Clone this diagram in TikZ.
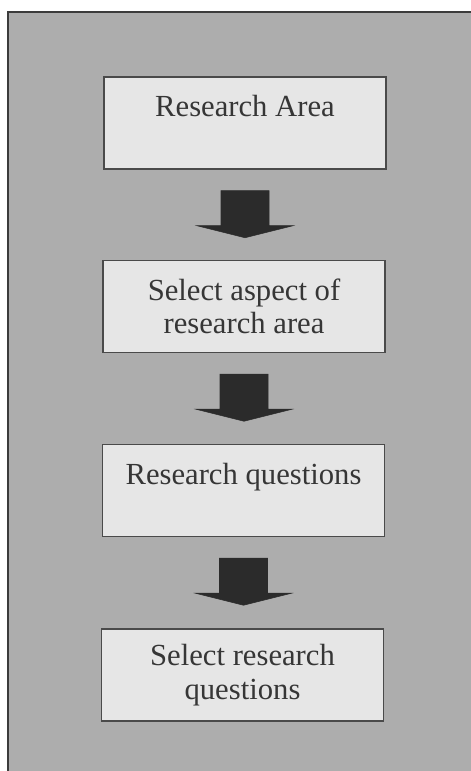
\documentclass[tikz,border=0pt]{standalone}
\usepackage{fontspec}
\setmainfont{Liberation Serif}
\usetikzlibrary{calc}

\definecolor{panel}{HTML}{ADADAD}
\definecolor{boxfill}{HTML}{E6E6E6}
\definecolor{boxline}{HTML}{4A4A4A}
\definecolor{frameline}{HTML}{3C3C3C}
\definecolor{arrowdark}{HTML}{2B2B2B}
\definecolor{textgray}{HTML}{363636}

\tikzset{
  stepbox/.style={draw=boxline, fill=boxfill, line width=1.1pt,
    minimum width=211.5pt, minimum height=69pt, inner sep=0pt,
    align=center, text=textgray, font=\fontsize{23}{25}\selectfont},
  blockarrow/.style={fill=arrowdark, draw=arrowdark, line width=0.4pt, line join=miter},
  frame/.style={draw=frameline, line width=1.2pt}
}

% block arrow hanging below node #1
\newcommand{\downblock}[1]{%
  \path[blockarrow] ($(#1.south)+(-24,21)$) -- ++(48,0) -- ++(0,35) -- ++(24,0)
    -- ++(-48,12) -- ++(-48,-12) -- ++(24,0) -- cycle;}

\begin{document}
\begin{tikzpicture}[x=0.75pt, y=-0.75pt]
  \useasboundingbox (0,0) rectangle (471,771);
  \fill[white] (0,0) rectangle (471,771);

  % grey panel with its top and left border
  \fill[panel] (8,12) rectangle (471,771);
  \draw[frame] (8,771) -- (8,12) -- (471,12);

  % process steps
  \node[stepbox] (area)     at (245,123)   {Research Area\\\mbox{}};
  \node[stepbox] (aspect)   at (244,306.5) {Select aspect of\\research area};
  \node[stepbox] (qs)       at (243.5,490.5) {Research questions\\\mbox{}};
  \node[stepbox] (selectqs) at (242.5,675) {Select research\\questions};

  % block arrows between the steps
  \downblock{area}
  \downblock{aspect}
  \downblock{qs}
\end{tikzpicture}
\end{document}
